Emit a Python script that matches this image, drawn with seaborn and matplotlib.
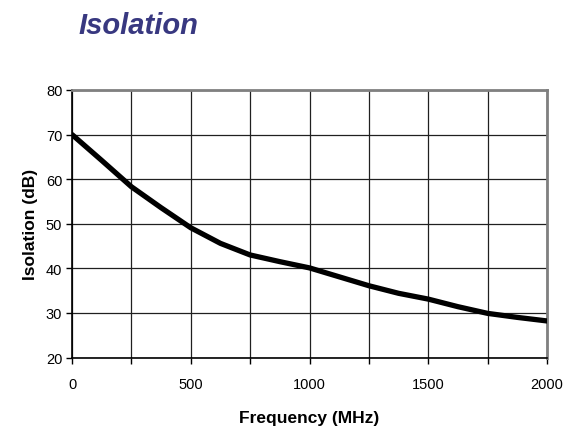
import numpy as np
import pandas as pd
import matplotlib
matplotlib.use("Agg")
import matplotlib.pyplot as plt
import seaborn as sns

# values
freq_mhz = [0, 125, 250, 375, 500, 625, 750, 875, 1000, 1125, 1250, 1375, 1500, 1625, 1750, 1875, 2000]
isolation_db = [70.0, 64.2, 58.3, 53.6, 49.1, 45.6, 43.0, 41.5, 40.1, 38.1, 36.1, 34.4, 33.1, 31.4, 29.9, 29.0, 28.2]

x_ticks = [0, 250, 500, 750, 1000, 1250, 1500, 1750, 2000]
x_labels = ["0", "", "500", "", "1000", "", "1500", "", "2000"]
y_ticks = [20, 30, 40, 50, 60, 70, 80]

sns.set_theme(style="white")
plt.rcParams['font.family'] = ['Liberation Sans', 'DejaVu Sans']

df = pd.DataFrame({"Frequency": freq_mhz, "Isolation": isolation_db})

fig = plt.figure(figsize=(5.79, 4.27), dpi=100)
ax = fig.add_axes([0.1244, 0.1604, 0.8203, 0.6265])

sns.lineplot(data=df, x="Frequency", y="Isolation", ax=ax, color="black",
             linewidth=3.8, zorder=3)

ax.set_xlim(0, 2000)
ax.set_ylim(20, 80)
ax.set_xticks(x_ticks)
ax.set_xticklabels(x_labels)
ax.set_yticks(y_ticks)
ax.grid(True, color="#202020", linewidth=0.9)
ax.tick_params(axis="both", direction="out", length=4, width=1, color="black",
               labelsize=10.5, labelcolor="black", pad=3, left=True, bottom=True)
ax.tick_params(axis="x", pad=10)

for side in ["left", "bottom"]:
    ax.spines[side].set_color("black")
    ax.spines[side].set_linewidth(1.2)
for side in ["top", "right"]:
    ax.spines[side].set_color("#808080")
    ax.spines[side].set_linewidth(2.0)

ax.set_xlabel("Frequency (MHz)", fontsize=12.5, fontweight="bold", color="black", labelpad=14)
ax.set_ylabel("Isolation (dB)", fontsize=12.5, fontweight="bold", color="black", labelpad=6)

fig.text(0.135, 0.92, "Isolation", fontsize=21, fontweight="bold", fontstyle="italic",
         color="#383880")

fig.savefig("out.png", dpi=100, facecolor="white")
